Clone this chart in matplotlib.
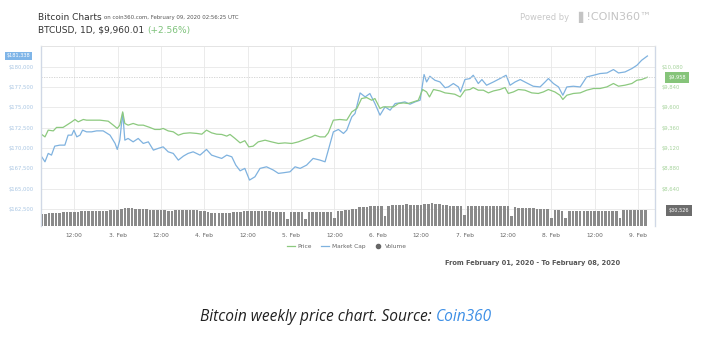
import numpy as np
import matplotlib
matplotlib.use("Agg")
import matplotlib.pyplot as plt
from matplotlib.lines import Line2D

# hours since 3 Feb 2020 00:00 UTC
price_t = [-21.0, -20.1, -19.2, -17.8, -16.9, -15.1, -14.1, -12.7, -11.8, -10.9,
           -9.5, -8.6, -6.8, -4.9, -2.6, -1.2, -0.1, 0.6, 1.4, 2.0,
           2.9, 4.3, 5.7, 7.1, 8.9, 10.3, 11.7, 12.6, 14.0, 15.4,
           16.8, 18.2, 20.0, 21.9, 23.3, 24.6, 26.0, 27.4, 28.8, 30.2,
           31.1, 32.5, 33.9, 35.2, 36.3, 37.5, 38.9, 40.8, 42.6, 44.5,
           46.3, 48.2, 50.0, 51.8, 53.7, 54.6, 56.0, 57.4, 58.3, 59.7,
           61.5, 63.4, 64.8, 66.2, 67.5, 68.9, 70.3, 71.2, 72.6, 73.5,
           74.9, 76.3, 77.7, 79.1, 80.4, 81.8, 83.2, 84.4, 85.5, 86.3,
           87.4, 89.2, 90.6, 91.9, 93.3, 94.8, 96.1, 97.5, 98.4, 99.8,
           101.2, 102.6, 104.0, 105.8, 107.2, 108.1, 109.5, 110.9, 112.7, 114.6,
           116.4, 117.8, 119.2, 121.0, 122.4, 123.2, 124.3, 126.1, 128.0, 129.8,
           131.7, 133.5, 135.4, 137.2, 138.6, 140.4, 142.3, 143.7, 145.0, 146.6]
price = [9281, 9252, 9332, 9323, 9364, 9364, 9391, 9430, 9458, 9430,
         9458, 9450, 9450, 9450, 9438, 9391, 9352, 9391, 9548, 9411,
         9391, 9411, 9391, 9391, 9364, 9340, 9340, 9352, 9323, 9312,
         9272, 9293, 9300, 9293, 9284, 9332, 9300, 9284, 9281, 9261,
         9281, 9233, 9181, 9207, 9134, 9142, 9193, 9213, 9193, 9174,
         9181, 9174, 9193, 9222, 9252, 9272, 9252, 9252, 9300, 9450,
         9458, 9450, 9548, 9588, 9706, 9718, 9686, 9706, 9588, 9607,
         9607, 9607, 9647, 9654, 9647, 9666, 9686, 9813, 9784, 9725,
         9813, 9796, 9773, 9766, 9757, 9725, 9805, 9813, 9836, 9805,
         9805, 9773, 9796, 9813, 9836, 9766, 9784, 9813, 9805, 9773,
         9766, 9784, 9813, 9784, 9745, 9695, 9745, 9766, 9773, 9805,
         9825, 9825, 9844, 9884, 9852, 9864, 9884, 9923, 9931, 9958]

mcap_t = [-21.0, -20.1, -19.2, -18.3, -17.4, -16.0, -14.6, -13.7, -12.7, -12.1,
          -11.3, -10.4, -9.7, -8.6, -7.2, -5.8, -4.0, -2.1, -0.7, -0.1,
          0.6, 1.4, 2.0, 2.9, 4.3, 5.7, 7.1, 8.5, 9.9, 11.2,
          12.6, 14.0, 15.4, 16.8, 18.2, 19.5, 20.9, 22.8, 24.6, 26.0,
          27.4, 28.8, 30.2, 31.6, 32.7, 33.9, 35.2, 36.5, 38.0, 39.4,
          41.2, 43.1, 44.5, 45.8, 47.7, 49.1, 50.5, 52.3, 54.1, 56.0,
          57.4, 58.3, 59.7, 61.1, 62.5, 63.4, 64.8, 65.7, 67.1, 68.5,
          69.8, 71.2, 72.6, 74.0, 75.4, 76.8, 78.1, 79.5, 80.9, 82.3,
          83.7, 84.8, 85.5, 86.4, 87.8, 89.2, 90.6, 91.5, 92.9, 94.3,
          94.9, 96.1, 97.5, 98.4, 99.8, 100.8, 102.1, 104.0, 105.8, 107.5,
          108.6, 110.0, 111.4, 113.2, 115.0, 116.9, 118.3, 119.2, 120.6, 122.0,
          123.2, 124.3, 126.1, 128.0, 129.8, 131.7, 133.5, 135.4, 137.2, 138.6,
          140.4, 142.3, 143.7, 145.0, 146.6]
mcap = [168916, 168301, 169335, 169126, 170234, 170357, 170357, 171589, 171589, 172205,
        171379, 171589, 172205, 171995, 171995, 172118, 172118, 171589, 170567, 169828,
        170973, 174335, 170973, 171182, 170764, 171182, 170567, 170764, 169742, 169951,
        170148, 169532, 169335, 168510, 169003, 169335, 169532, 169126, 169828, 169126,
        168916, 168719, 169126, 168916, 167894, 167192, 167488, 166047, 166453, 167488,
        167685, 167279, 166872, 166946, 167069, 167685, 167488, 167894, 168719, 168510,
        168301, 169742, 171995, 172291, 171798, 172205, 173842, 174261, 176798, 176306,
        176724, 175493, 174052, 175074, 174668, 175493, 175567, 175690, 175407, 175690,
        175899, 179064, 178153, 178855, 178362, 178153, 177440, 177537, 177956, 177537,
        176921, 178448, 178571, 178978, 177956, 178448, 177746, 178153, 178571, 178978,
        177746, 178153, 178448, 178030, 177623, 177537, 178153, 178571, 177956, 177537,
        176515, 177537, 177623, 177537, 178769, 178978, 179187, 179261, 179680, 179261,
        179384, 179803, 180209, 180825, 181355]

# hourly volume, $ millions, from hour -21 to 146
volume = [22900, 23500, 24000, 24600, 25200,
          25600, 25900, 26300, 26700, 27100, 27700,
          28000, 28200, 28400, 28600, 28600,
          28800, 29200, 29600, 30100, 30500,
          31500, 33400, 34300, 34300, 34000,
          33400, 33000, 32400, 31900,
          31500, 31100, 30700, 30500, 30100,
          28600, 29600, 30500, 30500, 30500, 30500, 30500,
          30500, 30100, 29600, 28600, 27700,
          25400, 25400, 25400, 25400, 25600, 25600,
          26300, 27100, 27500, 28200, 29000,
          29200, 28800, 28600, 28600, 28200,
          27900, 27700, 27500, 27300, 27300,
          12800,
          27300, 27100, 26900, 26700,
          12800,
          27300, 27100, 26700, 26500, 26300, 26100,
          26700,
          14700,
          28600, 29400, 30000, 30500,
          32100, 33400, 35700, 36300, 36800, 37400,
          38200, 38200, 38500,
          19100,
          38700, 39300, 39900, 40400, 41000, 41400,
          41000, 40400, 40100, 41000, 42000, 42900,
          43300, 42700, 42200, 41000,
          39500, 39100, 38900, 38700, 38700,
          21000,
          38700, 38900, 38700, 38500, 38700, 38900, 38700, 38700, 38500, 38700, 38700, 38700,
          19100,
          35700, 35300, 34700, 34300, 34000,
          33800, 33400, 33000, 32400, 32100,
          14700,
          30500, 30100, 29600,
          14700,
          29000, 28600, 28600, 28600, 28600, 28600, 28600,
          28600, 28600, 28600, 28600, 28600, 29000, 29200,
          14700,
          30100, 30500, 30500, 30500, 30500, 30500, 30526]
vol_t = np.arange(-21, -21 + len(volume))

mcap_ticks = [162500, 165000, 167500, 170000, 172500, 175000, 177500, 180000]
price_ticks = [8640, 8880, 9120, 9360, 9600, 9840, 10080]
x_ticks = [-12, 0, 12, 24, 36, 48, 60, 72, 84, 96, 108, 120, 132, 144]
x_labels = ["12:00", "3. Feb", "12:00", "4. Feb", "12:00", "5. Feb", "12:00",
            "6. Feb", "12:00", "7. Feb", "12:00", "8. Feb", "12:00", "9. Feb"]

GREEN = "#8cc97f"
BLUE = "#7fb2df"
GRID = "#e8e8e8"

W, H = 701, 339
fig = plt.figure(figsize=(W / 100, H / 100), dpi=100)


def fx(x):
    return x / W


def fy(y):
    return 1 - y / H


def after(t, gap=0):
    # x position (figure fraction) just right of a drawn text
    fig.canvas.draw()
    return (t.get_window_extent().x1 + gap) / fig.bbox.width


ax = fig.add_axes([fx(41), fy(226), (655 - 41) / W, (226 - 46) / H])
ax2 = ax.twinx()
ax3 = ax.twinx()

ax.plot(mcap_t, mcap, color=BLUE, lw=0.9)
ax2.plot(price_t, price, color=GREEN, lw=0.9)
ax2.axhline(price[-1], color="#cfcfcf", lw=0.6, ls=(0, (1.5, 1.5)))
ax3.bar(vol_t, volume, width=0.72, color="#8a8a8a", align="center")

ax.set_xlim(-21.2, 148.7)
ax.set_ylim(160382, 182586)
ax2.set_ylim(8197, 10328)
ax3.set_ylim(0, 344000)

ax.set_xticks(x_ticks)
ax.set_xticklabels(x_labels, fontsize=4.2, color="#666666")
ax.tick_params(axis="x", length=0, pad=5)
ax.set_yticks(mcap_ticks)
ax.set_yticklabels(["$%s" % format(v, ",") for v in mcap_ticks], fontsize=3.8, color="#a9c6e3")
ax.tick_params(axis="y", length=0, pad=5)
ax2.set_yticks(price_ticks)
ax2.set_yticklabels(["$%s" % format(v, ",") for v in price_ticks], fontsize=3.8, color="#a6d39c")
ax2.tick_params(axis="y", length=0, pad=5)
ax3.set_yticks([])

ax.grid(True, color=GRID, lw=0.6)
ax.set_axisbelow(True)
for a in (ax, ax2, ax3):
    a.spines["bottom"].set_visible(False)
    a.spines["top"].set_color("#e4e4e4")
    a.spines["left"].set_color("#d0d8e6")
    a.spines["right"].set_color("#d0d8e6")
    a.spines["top"].set_linewidth(0.6)
    a.spines["left"].set_linewidth(0.8)
    a.spines["right"].set_linewidth(0.8)

# value boxes
ax.annotate("$181,338", xy=(-0.0366, mcap[-1]), xycoords=("axes fraction", "data"),
            ha="center", va="center", fontsize=3.6, color="white", annotation_clip=False,
            bbox=dict(boxstyle="square,pad=0.35", fc="#7fb5e8", ec="none"))
ax2.annotate("$9,958", xy=(1.036, price[-1]), xycoords=("axes fraction", "data"),
             ha="center", va="center", fontsize=3.6, color="white", annotation_clip=False,
             bbox=dict(boxstyle="square,pad=0.6", fc="#86c47a", ec="none"))
ax3.annotate("$30,526", xy=(1.039, volume[-1]), xycoords=("axes fraction", "data"),
             ha="center", va="center", fontsize=3.6, color="white", annotation_clip=False,
             bbox=dict(boxstyle="square,pad=0.6", fc="#6c6c6c", ec="none"))

# header
t_title = fig.text(fx(38), fy(17), "Bitcoin Charts", fontsize=6.5, color="#333333", va="center")
fig.text(after(t_title, 2), fy(17.5), "on coin360.com, February 09, 2020 02:56:25 UTC",
         fontsize=3.9, color="#555555", va="center")
t_pair = fig.text(fx(38), fy(30.5), "BTCUSD, 1D, $9,960.01", fontsize=6.5,
                  color="#333333", va="center")
fig.text(after(t_pair, 3), fy(30.5), "(+2.56%)", fontsize=6.5, color="#7dc27a", va="center")
fig.text(fx(520), fy(17), "Powered by", fontsize=6, color="#c8c8c8", va="center")
fig.text(fx(578), fy(17), "\u258c!COIN360\u2122", fontsize=8, color="#c4c4c4", va="center")

leg_handles = [Line2D([], [], color=GREEN, lw=0.9),
               Line2D([], [], color=BLUE, lw=0.9),
               Line2D([], [], color="#666666", marker="o", ls="none", markersize=3)]
fig.legend(leg_handles, ["Price", "Market Cap", "Volume"], loc="center",
           bbox_to_anchor=(fx(347), fy(246)), ncol=3, frameon=False, fontsize=4.2,
           labelcolor="#666666", handlelength=1.4, columnspacing=1.5, handletextpad=0.5)

fig.text(fx(533), fy(263), "From February 01, 2020 - To February 08, 2020",
         fontsize=4.8, color="#555555", ha="center", va="center", fontweight="semibold")

cap_y = fy(317)
t1 = fig.text(fx(200), cap_y, "Bitcoin weekly price chart. Source: ", fontsize=11.2,
              family="Open Sans", style="italic", color="#222222", va="center")
fig.text(after(t1), cap_y, "Coin360", fontsize=11.2, family="Open Sans",
         style="italic", color="#3d8fe6", va="center")

fig.savefig("out.png", dpi=100)
